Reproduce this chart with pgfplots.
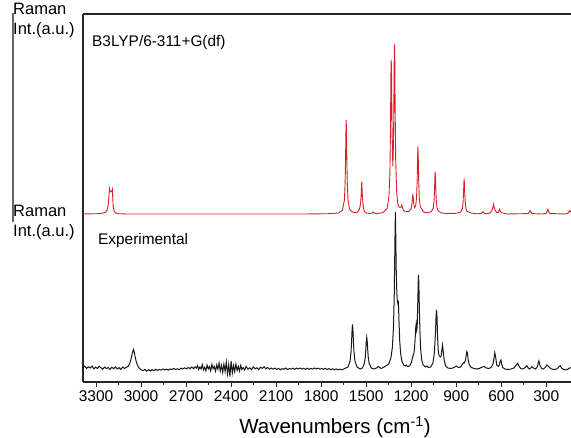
\documentclass[border=0pt]{standalone}
\usepackage{pgfplots}
\pgfplotsset{compat=1.18}
\usepackage{fontspec}
\setmainfont{Liberation Sans}
\definecolor{specred}{RGB}{220,30,40}
\definecolor{specblk}{RGB}{25,25,25}
\begin{document}
\begin{tikzpicture}
\useasboundingbox (-83pt,-56pt) rectangle (488pt,382pt);
\begin{axis}[
  scale only axis,
  width=488pt, height=368pt,
  x dir=reverse,
  xmin=135, xmax=3387,
  ymin=0, ymax=368,
  axis x line*=bottom, axis y line*=left,
  axis line style={-, line width=1.1pt, black!85},
  xtick={300,600,...,3300},
  minor x tick num=1,
  ytick=\empty,
  tick align=outside,
  major tick length=5pt,
  minor tick length=3pt,
  tick style={line width=1pt, black!85},
  xtick pos=bottom,
  /pgf/number format/assume math mode=true,
  /pgf/number format/set thousands separator={},
  tick label style={font=\fontsize{15.5}{18}\selectfont},
  clip=true,
]
\draw[line width=1.1pt, black!85] (rel axis cs:0,1) -- (rel axis cs:1,1);
\addplot[specred, line width=0.9pt] coordinates {
(135,169.5) (140,171) (145,171.3) (150,170) (157,168.4) (180,168)
(277,168.5) (284,170.5) (289,172.7) (294,170.5) (301,168.5) (330,168)
(395,168.4) (402,170) (407,171.3) (412,170) (420,168.4) (560,168)
(600,169.3) (607,171) (611,172.7) (615,171) (622,169.3) (630,169.5)
(640,171.5) (647,175) (651,178) (655,175) (662,171.5) (675,169) (700,168.2)
(712,168.5) (722,170.3) (732,168.5) (760,168.2) (800,169) (827,170.5)
(835,173.2) (840,179.9) (843,189.4) (845,198) (847,203) (849,198) (851,189.4)
(854,179.9) (859,173.2) (870,170) (900,168.7) (960,168.5) (1000,169)
(1020,171) (1028,174.5) (1033,182.4) (1036,193.8) (1038,204.4) (1040,210.3)
(1042,204.4) (1044,193.8) (1047,182.4) (1052,174.5) (1065,170.5) (1090,169.2)
(1110,169.5) (1120,170.5) (1126,172) (1130,173) (1135,174) (1140,176)
(1146,184) (1150,201.6) (1153,225.9) (1155,235.3) (1157,225.9) (1160,201.6)
(1164,184.7) (1170,176) (1178,174.4) (1184,179.7) (1187,185.5) (1189,187)
(1191,185.5) (1194,179.7) (1200,173.5) (1215,170.5) (1240,170.5) (1250,171.5)
(1258,174) (1262,177) (1266,175) (1275,174.5) (1285,176) (1290,179) (1296,188)
(1303,220) (1307,277) (1309,320.5) (1311,337.7) (1313,323) (1316,265)
(1319,233) (1322,216) (1325,230) (1328,259) (1331,310.5) (1333,322)
(1335,307.5) (1338,250.6) (1342,207.5) (1348,186) (1360,173.5) (1390,169.2)
(1430,168.4) (1446,168.8) (1453,170) (1460,168.8) (1480,168.6) (1500,169)
(1514,171) (1522,179) (1526,187.7) (1528,196) (1529,200.3) (1531,196)
(1533,187.7) (1537,179) (1544,173) (1560,169.5) (1583,169.5) (1600,171)
(1611,173) (1621,182) (1626,200) (1629,225) (1631,249) (1633,262) (1635,249)
(1637,225) (1640,200) (1645,182) (1658,172) (1683,169) (1750,168.3)
(1900,168) (3100,168) (3150,168.3) (3170,169) (3180,171) (3186,176)
(3189,185) (3191,192.7) (3196,190.5) (3201,190) (3206,191) (3211,193.7)
(3214,186) (3220,176) (3226,172) (3229,171.5) (3235,170) (3250,169)
(3290,168.3) (3387,168)
};
\addplot[specblk, line width=1pt] coordinates {
(3387,14.5) (3375,15.8) (3363,13.6) (3351,15.2) (3339,14.0) (3327,16.0)
(3315,13.2) (3303,14.8) (3291,13.5) (3279,15.6) (3267,14.2) (3255,12.8)
(3243,15.0) (3231,13.4) (3219,14.6) (3207,12.5) (3195,14.8) (3183,13.3)
(3171,15.1) (3159,13.0) (3147,14.3) (3135,12.6) (3123,14.9) (3111,13.6)
(3099,14.5) (3087,15.5) (3078,17.5) (3070,21) (3064,25) (3058,29) (3054,31)
(3051,32.5) (3047,31) (3042,27) (3035,22) (3027,18) (3018,15) (3008,13.2)
(2998,12.0) (2986,11.5) (2974,12.6) (2962,10.8) (2950,12.3) (2938,11.0)
(2926,12.5) (2914,11.2) (2902,12.8) (2890,11.5) (2878,12.6) (2866,11.9)
(2854,13.0) (2842,12.0) (2830,12.9) (2818,11.8) (2806,13.1) (2794,12.4)
(2782,13.6) (2770,12.5) (2758,13.2) (2746,12.3) (2734,13.8) (2722,13.0)
(2710,14.2) (2698,13.1) (2686,14.5) (2674,13.4) (2662,15.0) (2650,13.2)
(2640,15.2) (2632,13.8) (2624,16.4) (2616,12.5) (2608,15.1) (2600,13.0)
(2592,17.4) (2584,12.1) (2576,14.8) (2568,11.2) (2560,16.9) (2552,13.0)
(2544,15.4) (2536,11.0) (2528,17.6) (2520,13.2) (2512,15.5) (2504,10.8)
(2496,17.0) (2488,12.5) (2480,19.0) (2472,11.0) (2464,16.5) (2456,9.5)
(2448,18.0) (2440,10.5) (2432,20.0) (2424,8.0) (2416,17.5) (2408,5.5)
(2400,21.0) (2392,9.0) (2384,16.5) (2376,10.5) (2368,18.0) (2360,11.5)
(2352,15.5) (2344,10.8) (2336,16.6) (2328,12.5) (2320,14.5) (2310,12.0)
(2300,15.6) (2288,12.8) (2276,14.2) (2264,12.3) (2252,15.0) (2240,13.2)
(2228,14.2) (2216,12.4) (2204,14.8) (2192,13.6) (2180,15.2) (2168,13.2)
(2156,14.5) (2144,12.8) (2132,14.0) (2120,12.9) (2108,13.8) (2096,12.5)
(2084,13.6) (2072,12.2) (2060,13.4) (2048,12.7) (2036,13.9) (2024,12.4)
(2012,13.5) (2000,12.8) (1988,13.8) (1976,12.6) (1964,13.9) (1952,13.1)
(1940,14.0) (1928,12.9) (1916,13.7) (1904,12.6) (1892,13.8) (1880,12.7)
(1868,13.6) (1856,12.9) (1844,14.0) (1832,13.2) (1820,13.8) (1808,12.8)
(1796,13.5) (1784,12.6) (1772,13.7) (1760,12.5) (1748,13.4) (1736,12.3)
(1724,13.2) (1712,12.4) (1700,13.0) (1688,12.2) (1676,12.9) (1664,12.1)
(1650,13) (1621,15) (1607,21) (1601,29.8) (1597,41) (1594,52) (1591,57.7)
(1588,52) (1585,41) (1581,29.8) (1575,21) (1561,15) (1540,13) (1525,14)
(1512,18.5) (1506,24.8) (1502,33) (1499,40.8) (1496,44.7) (1493,40.8)
(1490,33) (1486,24.8) (1480,18.5) (1466,14) (1450,13) (1430,14) (1420,15.5)
(1400,13.5) (1380,15) (1350,18) (1335,24) (1325,35) (1318,55) (1313,85)
(1310,120) (1307,155) (1305,170) (1303,150) (1300,115) (1297,95) (1293,82)
(1288,78) (1285,79.3) (1281,60) (1276,40) (1270,28) (1262,21) (1250,17)
(1240,16) (1233,17) (1225,15.5) (1210,16) (1200,19) (1190,25) (1180,30)
(1174,42) (1170,54) (1167,58) (1163,52) (1160,55) (1156,80) (1153,100)
(1151,107) (1149,100) (1146,78) (1142,52) (1137,33) (1130,22) (1120,17)
(1105,15) (1095,16) (1085,14.5) (1070,15) (1055,19) (1045,30) (1038,50)
(1034,66) (1031,72) (1028,66) (1024,45) (1019,30) (1013,26) (1005,25)
(1000,26) (996,32) (991,37) (986,30) (980,22) (970,16) (955,14) (935,13.5)
(915,14.5) (900,16) (885,14.5) (870,15) (858,18) (852,19.3) (846,19)
(838,22) (832,28) (829,30.3) (825,29) (820,22) (812,17) (800,14.5)
(780,13.5) (760,13) (740,14) (725,15) (713,15.5) (700,14) (680,13.5)
(665,15) (655,18) (648,24) (643,29.3) (638,26) (630,17) (620,15.5)
(612,17) (606,21) (602,22) (598,19) (590,14.5) (575,13) (555,12.5)
(535,13) (515,14) (500,17) (491,18.7) (482,16) (470,13.5) (455,13)
(440,14.5) (429,16.3) (420,14) (410,13) (400,14.5) (395,15.3) (385,14)
(372,13) (360,15) (349,21) (340,16) (330,13.5) (318,13) (305,15) (295,17)
(285,15.5) (270,13.5) (255,12.5) (240,12.5) (225,13.5) (215,15.5)
(207,16.3) (198,14) (185,12.5) (170,12) (160,12.5) (150,13.5) (140,14.3)
(135,14)
};
\end{axis}
\draw[line width=1.1pt, black!60] (-70pt,369pt) -- (-70pt,160pt);
\begin{scope}[every node/.style={inner sep=0pt, anchor=base west, align=left, font=\fontsize{16.5}{19.7}\selectfont}]
\node at (-70pt,347.7pt) {Raman\\Int.(a.u.)};
\node at (-70pt,145.3pt) {Raman\\Int.(a.u.)};
\end{scope}
\node[inner sep=0pt, anchor=base west, font=\fontsize{15.4}{18}\selectfont] at (9pt,335.3pt) {B3LYP/6-311+G(df)};
\node[inner sep=0pt, anchor=base west, font=\fontsize{15.4}{18}\selectfont] at (15pt,137pt) {Experimental};
\node[inner sep=0pt, anchor=base, font=\fontsize{20.5}{24}\selectfont] at (252pt,-52pt) {Wavenumbers (cm\textsuperscript{-1})};
\end{tikzpicture}
\end{document}
